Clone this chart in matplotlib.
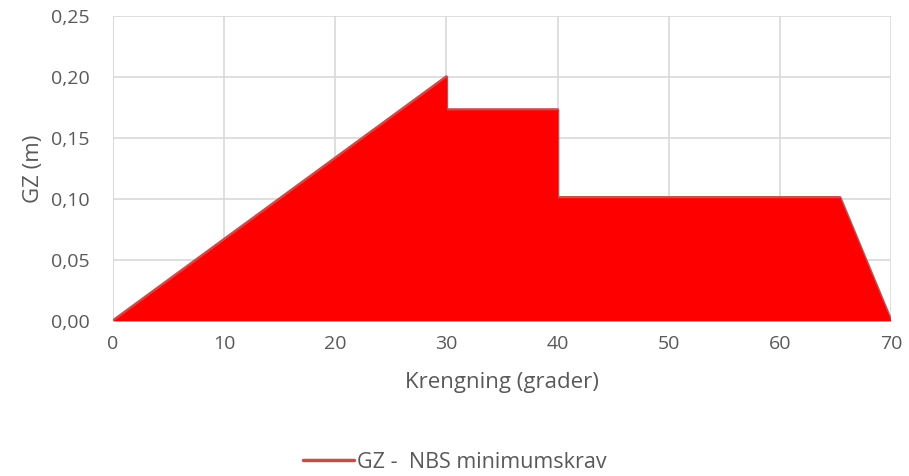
import matplotlib.pyplot as plt
from matplotlib.ticker import FuncFormatter

# krengningsvinkel (grader) og GZ-krav (m)
vinkel = [0, 30, 30, 40, 40, 65.4, 70]
gz_krav = [0.0, 0.200, 0.173, 0.173, 0.101, 0.101, 0.0]

x_ticks = [0, 10, 20, 30, 40, 50, 60, 70]
y_ticks = [0.00, 0.05, 0.10, 0.15, 0.20, 0.25]

plt.rcParams['font.family'] = ['Open Sans', 'DejaVu Sans']
tekst = '#595959'
grid = '#d9d9d9'

fig = plt.figure(figsize=(9.09, 4.76), dpi=100)
ax = fig.add_axes([113 / 909, 1 - 321 / 476, 778 / 909, 305 / 476])

ax.plot(vinkel, gz_krav, color='#c0504d', lw=2.5, zorder=2,
        label='GZ -  NBS minimumskrav', solid_capstyle='round')
ax.fill_between(vinkel, gz_krav, 0, color='#ff0000', lw=0, zorder=3)

ax.set_xlim(0, 70)
ax.set_ylim(0, 0.25)
ax.set_xticks(x_ticks)
ax.set_yticks(y_ticks)
ax.yaxis.set_major_formatter(FuncFormatter(lambda v, p: f'{v:.2f}'.replace('.', ',')))
ax.grid(True, color=grid, lw=1.2, zorder=0)
ax.set_axisbelow(True)
for s in ax.spines.values():
    s.set_visible(False)
ax.axhline(0, color=grid, lw=1.2, zorder=1)
ax.axvline(0, color=grid, lw=1.2, zorder=1)
ax.tick_params(length=0, labelsize=14, labelcolor=tekst)
ax.tick_params(axis='y', pad=17)
ax.tick_params(axis='x', pad=10)

ax.set_xlabel('Krengning (grader)', fontsize=16, color=tekst, labelpad=14)
ax.set_ylabel('GZ (m)', fontsize=16, color=tekst, labelpad=5)

fig.legend(loc='center', bbox_to_anchor=(0.5, 1 - 462 / 476), frameon=False,
           fontsize=15.5, labelcolor=tekst, handlelength=2.4, handletextpad=0.1)

fig.savefig('out.png', dpi=100)
